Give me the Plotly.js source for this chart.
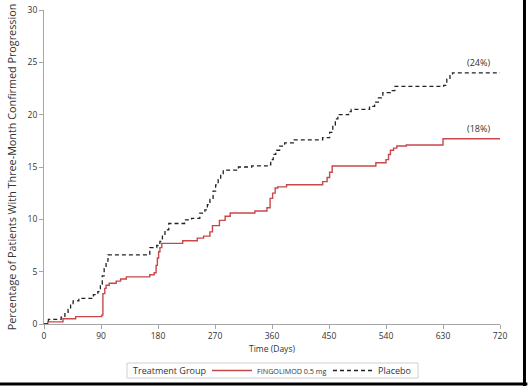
<!DOCTYPE html>
<html>
<head>
<meta charset="utf-8">
<script src="https://cdn.plot.ly/plotly-3.0.1.min.js"></script>
<style>
html,body{margin:0;padding:0;background:#fff;}
#chart{width:528px;height:386px;}
</style>
</head>
<body>
<div id="chart"></div>
<script>
// Days since randomisation and cumulative % with 3-month confirmed progression
var fingolimodDays = [0,6,30,50,91,93,96,98,103,114,121,130,167,174,177,179,181,183,186,219,242,252,262,266,277,286,294,333,352,357,361,365,369,383,440,447,451,455,524,540,544,547,552,557,572,630,720];
var fingolimodPct  = [0,0.2,0.5,0.7,0.85,2.9,3.4,3.7,3.9,4.1,4.3,4.5,4.7,4.9,5.6,6.3,6.9,7.3,7.7,7.95,8.2,8.4,8.8,9.4,9.9,10.3,10.6,10.8,11.1,12.0,12.5,13.0,13.1,13.3,13.6,14.0,14.5,15.1,15.4,15.7,16.2,16.6,16.8,17.0,17.1,17.7,17.7];

var placeboDays = [0,7,27,33,38,42,46,55,78,85,89,92,95,98,101,167,178,183,187,191,197,222,233,246,254,258,262,267,271,275,279,283,307,328,354,358,362,366,372,380,395,440,451,456,460,464,481,485,514,522,528,535,547,554,631,636,641,645,720];
var placeboPct  = [0,0.45,0.65,1.0,1.4,1.8,2.2,2.45,2.8,3.1,3.8,4.6,5.3,6.0,6.6,7.3,7.5,7.9,8.5,9.0,9.6,9.95,10.1,10.6,10.9,11.4,11.9,12.7,13.3,13.8,14.3,14.7,15.0,15.1,15.2,15.7,16.2,16.6,17.0,17.3,17.6,17.8,18.3,19.0,19.6,20.0,20.3,20.5,20.8,21.2,21.6,22.1,22.3,22.7,22.8,23.4,23.8,24.0,24.0];

var seriesNames = ['FINGOLIMOD 0.5 mg','Placebo'];
var legendTitle = 'Treatment Group';
var endLabels = ['(18%)','(24%)'];
var xTicks = [0,90,180,270,360,450,540,630,720];
var yTicks = [0,5,10,15,20,25,30];

var fontFam = '"Open Sans", "Noto Sans", sans-serif';
var axisCol = '#a6a6a6';
var textCol = '#333333';

var traces = [
  {
    x: fingolimodDays, y: fingolimodPct, type: 'scatter', mode: 'lines',
    line: {shape: 'hv', color: '#c8474a', width: 1.4},
    name: '<span style="font-size:7.2px">' + seriesNames[0] + '</span>',
    legend: 'legend'
  },
  {
    x: placeboDays, y: placeboPct, type: 'scatter', mode: 'lines',
    line: {shape: 'hv', color: '#222222', width: 1.3, dash: '4px,3px'},
    name: seriesNames[1],
    legend: 'legend2'
  }
];

var legendBase = {
  orientation: 'h', xref: 'container', yref: 'container',
  xanchor: 'left', y: (386 - 370.5) / 386, yanchor: 'middle',
  borderwidth: 0, bgcolor: 'rgba(0,0,0,0)',
  font: {size: 9, color: textCol},
  itemwidth: 40, tracegroupgap: 0
};

var layout = {
  width: 528, height: 386,
  margin: {l: 44, r: 28, t: 10, b: 62, autoexpand: false},
  paper_bgcolor: '#ffffff', plot_bgcolor: '#ffffff',
  font: {family: fontFam, size: 9, color: textCol},
  showlegend: true,
  legend: Object.assign({}, legendBase, {x: 207 / 528}),
  legend2: Object.assign({}, legendBase, {x: 328 / 528}),
  xaxis: {
    range: [0, 720], tickvals: xTicks, ticktext: xTicks.map(String),
    showgrid: false, zeroline: false, showline: true, linecolor: axisCol, linewidth: 1,
    ticks: 'outside', ticklen: 4, tickcolor: axisCol,
    tickfont: {size: 8.5, color: textCol},
    title: {text: 'Time (Days)', font: {size: 8.5, color: textCol}, standoff: 5},
    fixedrange: true
  },
  yaxis: {
    range: [0, 30], tickvals: yTicks, ticktext: yTicks.map(String),
    showgrid: false, zeroline: false, showline: true, linecolor: axisCol, linewidth: 1,
    ticks: 'outside', ticklen: 4, tickcolor: axisCol,
    tickfont: {size: 8.5, color: textCol},
    title: {text: 'Percentage of Patients With Three-Month Confirmed Progression', font: {size: 10.8, color: textCol}, standoff: 8},
    fixedrange: true
  },
  annotations: [
    {x: 686, y: fingolimodPct[fingolimodPct.length - 1], xref: 'x', yref: 'y', text: endLabels[0],
     showarrow: false, yanchor: 'bottom', yshift: 2, font: {size: 9, color: textCol}},
    {x: 686, y: placeboPct[placeboPct.length - 1], xref: 'x', yref: 'y', text: endLabels[1],
     showarrow: false, yanchor: 'bottom', yshift: 2, font: {size: 9, color: textCol}},
    {x: (131 - 44) / 456, y: (324 - 370.5) / 314, xref: 'paper', yref: 'paper', text: legendTitle,
     showarrow: false, xanchor: 'left', yanchor: 'middle', font: {size: 9, color: textCol}}
  ],
  shapes: [
    {type: 'rect', xref: 'paper', yref: 'paper',
     x0: (127 - 44) / 456, x1: (418 - 44) / 456, y0: (324 - 378) / 314, y1: (324 - 363) / 314,
     line: {color: '#cfcfcf', width: 1}, fillcolor: 'rgba(0,0,0,0)'},
    {type: 'line', xref: 'paper', yref: 'paper', x0: 1.0537, x1: 1.0537, y0: -0.2, y1: 1.04,
     line: {color: '#000000', width: 3}},
    {type: 'line', xref: 'paper', yref: 'paper', x0: -0.2, x1: 1.06, y0: -0.1911, y1: -0.1911,
     line: {color: '#000000', width: 3}}
  ]
};

Plotly.newPlot('chart', traces, layout, {displayModeBar: false, staticPlot: true});
</script>
</body>
</html>
